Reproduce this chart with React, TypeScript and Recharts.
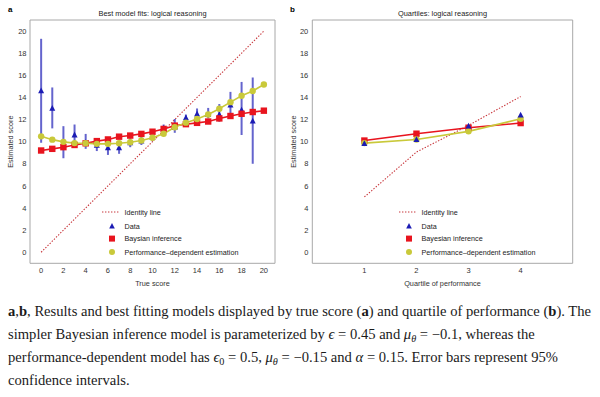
import React from 'react';
import { ComposedChart, Line, Scatter, XAxis, YAxis, ZAxis, ErrorBar, ReferenceArea, Label } from 'recharts';

// ---------- Panel a: by true score ----------
const trueScores = [0, 1, 2, 3, 4, 5, 6, 7, 8, 9, 10, 11, 12, 13, 14, 15, 16, 17, 18, 19, 20];
const bayesA = [9.2, 9.35, 9.5, 9.7, 9.85, 10.05, 10.2, 10.45, 10.55, 10.7, 10.9, 11.15, 11.45, 11.58, 11.7, 11.82, 12.1, 12.32, 12.52, 12.68, 12.8];
const perfA = [10.48, 10.18, 9.98, 9.87, 9.85, 9.8, 9.8, 9.85, 9.95, 10.1, 10.35, 10.72, 11.3, 11.72, 12.05, 12.45, 12.97, 13.57, 14.15, 14.58, 15.17];

const dataScoresA = [0, 1, 2, 3, 4, 5, 6, 7, 8, 9, 10, 11, 12, 13, 14, 15, 16, 17, 18, 19];
const dataMeanA = [14.6, 13.0, 9.8, 10.6, 9.9, 9.67, 9.45, 9.45, 9.9, 10.05, 10.4, 11.2, 11.3, 12.15, 12.5, 12.45, 12.45, 13.3, 12.85, 11.85];
const dataLowA = [9.9, 11.2, 8.5, 9.9, 9.35, 9.15, 8.8, 8.9, 9.5, 9.7, 10.05, 10.9, 10.8, 11.9, 12.1, 12.1, 11.8, 12.25, 10.6, 8.0];
const dataHighA = [19.3, 14.9, 11.4, 11.55, 10.7, 10.2, 10.0, 10.0, 10.3, 10.45, 10.8, 11.55, 12.05, 12.45, 13.0, 13.05, 13.4, 14.5, 15.4, 15.8];

// ---------- Panel b: by quartile ----------
const quartiles = [1, 2, 3, 4];
const identityB = [5.0, 9.06, 11.47, 14.08];
const dataB = [9.82, 10.18, 11.4, 12.4];
const bayesB = [10.1, 10.72, 11.26, 11.68];
const perfB = [9.87, 10.2, 10.93, 12.07];

const yTicks = [0, 2, 4, 6, 8, 10, 12, 14, 16, 18, 20];
const xTicksA = [0, 2, 4, 6, 8, 10, 12, 14, 16, 18, 20];
const xTicksB = [1, 2, 3, 4];

const RED = '#e8141e';
const YELLOW = '#c9c93a';
const BLUE = '#1c1cb4';
const ERR = '#3030bc';
const IDENT = '#c8373c';
const FONT = '"Liberation Sans", Arial, sans-serif';
const tickStyle = { fontSize: 7.5, fill: '#333', fontFamily: FONT };

const lineTableA = trueScores.map((x, i) => ({ x, identity: x, bayes: bayesA[i], perf: perfA[i] }));
const dataTableA = dataScoresA.map((x, i) => ({
  x,
  data: dataMeanA[i],
  err: [dataMeanA[i] - dataLowA[i], dataHighA[i] - dataMeanA[i]],
}));
const lineTableB = quartiles.map((x, i) => ({ x, identity: identityB[i], bayes: bayesB[i], perf: perfB[i] }));
const dataTableB = quartiles.map((x, i) => ({ x, data: dataB[i] }));

const squareDot = (props: any) => {
  const { cx, cy, index } = props;
  if (cx == null || cy == null) return <g key={`s${index}`} />;
  return <rect key={`s${index}`} x={cx - 3.2} y={cy - 3.2} width={6.4} height={6.4} fill={RED} />;
};
const circleDot = (props: any) => {
  const { cx, cy, index } = props;
  if (cx == null || cy == null) return <g key={`c${index}`} />;
  return <circle key={`c${index}`} cx={cx} cy={cy} r={3.2} fill={YELLOW} />;
};
const triangleShape = (props: any) => {
  const { cx, cy } = props;
  return <polygon points={`${cx},${cy - 3.4} ${cx - 3},${cy + 2.4} ${cx + 3},${cy + 2.4}`} fill={BLUE} />;
};

const yTitle = (props: any) => {
  const vb = props.viewBox;
  const x = vb.x + vb.width - 19;
  const y = 141.7;
  return (
    <text x={x} y={y} transform={`rotate(-90 ${x} ${y})`} textAnchor="middle" dominantBaseline="central" fontSize={7.3} fill="#333" fontFamily={FONT}>
      Estimated score
    </text>
  );
};
const xTitle = (text: string) => (props: any) => {
  const vb = props.viewBox;
  return (
    <text x={vb.x + vb.width / 2} y={283} textAnchor="middle" dominantBaseline="central" fontSize={7.3} fill="#333" fontFamily={FONT}>
      {text}
    </text>
  );
};

const Legend = ({ left, top, bayesLabel }: { left: number; top: number; bayesLabel: string }) => {
  const rows = [
    { label: 'Identity line', y: 0 },
    { label: 'Data', y: 14.3 },
    { label: bayesLabel, y: 26.6 },
    { label: 'Performance\u2013dependent estimation', y: 40 },
  ];
  const mx = 10;
  return (
    <svg style={{ position: 'absolute', left, top, overflow: 'visible' }} width={150} height={50}>
      <line x1={0} y1={0} x2={17} y2={0} stroke={IDENT} strokeWidth={1.1} strokeDasharray="1.4 1.6" />
      <polygon points={`${mx},${14.3 - 3.2} ${mx - 2.8},${14.3 + 2.2} ${mx + 2.8},${14.3 + 2.2}`} fill={BLUE} />
      <rect x={mx - 3} y={26.6 - 3} width={6} height={6} fill={RED} />
      <circle cx={mx} cy={40} r={3} fill={YELLOW} />
      {rows.map((r) => (
        <text key={r.label} x={22.5} y={r.y} dominantBaseline="central" fontSize={7.2} fill="#222" fontFamily={FONT}>
          {r.label}
        </text>
      ))}
    </svg>
  );
};

const titleStyle: React.CSSProperties = {
  position: 'absolute',
  top: 9,
  fontSize: 7.4,
  fontFamily: FONT,
  color: '#222',
  textAlign: 'center',
  whiteSpace: 'nowrap',
  lineHeight: '10px',
};

const subStyle: React.CSSProperties = { fontSize: '0.7em', position: 'relative', top: '0.3em', lineHeight: 0 };

export default function App() {
  return (
    <div style={{ position: 'absolute', left: 0, top: 0, width: 600, height: 397, background: '#fff', overflow: 'hidden' }}>
      <div style={{ position: 'absolute', left: 8, top: 5, fontSize: 8, fontWeight: 'bold', fontFamily: FONT }}>a</div>
      <div style={{ position: 'absolute', left: 290, top: 5, fontSize: 8, fontWeight: 'bold', fontFamily: FONT }}>b</div>
      <div style={{ ...titleStyle, left: 30, width: 245 }}>Best model fits: logical reasoning</div>
      <div style={{ ...titleStyle, left: 312.3, width: 260.4 }}>Quartiles: logical reasoning</div>

      <div style={{ position: 'absolute', left: 0, top: 0 }}>
        <ComposedChart width={285} height={290} data={lineTableA} margin={{ top: 20, right: 10, bottom: 25.7, left: 29 }}>
          <XAxis dataKey="x" type="number" domain={[-1, 21]} ticks={xTicksA} height={1} tickSize={0} tickMargin={4} axisLine={false} tick={tickStyle} interval={0}>
            <Label content={xTitle('True score')} />
          </XAxis>
          <YAxis type="number" domain={[-1, 21]} ticks={yTicks} width={1} tickSize={0} tickMargin={3.5} axisLine={false} tick={tickStyle} interval={0}>
            <Label content={yTitle} />
          </YAxis>
          <ZAxis range={[30, 30]} />
          <ReferenceArea x1={-1} x2={21} y1={-1} y2={21} fill="none" stroke="#a8a8a8" strokeWidth={1} />
          <Line dataKey="identity" stroke={IDENT} strokeWidth={1.1} strokeDasharray="1.4 1.6" dot={false} isAnimationActive={false} />
          <Line dataKey="bayes" stroke={RED} strokeWidth={1.6} dot={squareDot} isAnimationActive={false} />
          <Line dataKey="perf" stroke={YELLOW} strokeWidth={1.6} dot={circleDot} isAnimationActive={false} />
          <Scatter data={dataTableA} dataKey="data" shape={triangleShape} isAnimationActive={false}>
            <ErrorBar dataKey="err" direction="y" width={0} stroke={ERR} strokeWidth={2} strokeOpacity={0.75} />
          </Scatter>
        </ComposedChart>
      </div>

      <div style={{ position: 'absolute', left: 285, top: 0 }}>
        <ComposedChart width={315} height={290} data={lineTableB} margin={{ top: 20, right: 27.3, bottom: 25.7, left: 26.3 }}>
          <XAxis dataKey="x" type="number" domain={[0, 5]} ticks={xTicksB} height={1} tickSize={0} tickMargin={4} axisLine={false} tick={tickStyle} interval={0}>
            <Label content={xTitle('Quartile of performance')} />
          </XAxis>
          <YAxis type="number" domain={[-1, 21]} ticks={yTicks} width={1} tickSize={0} tickMargin={4} axisLine={false} tick={tickStyle} interval={0}>
            <Label content={yTitle} />
          </YAxis>
          <ZAxis range={[30, 30]} />
          <ReferenceArea x1={0} x2={5} y1={-1} y2={21} fill="none" stroke="#a8a8a8" strokeWidth={1} />
          <Line dataKey="identity" stroke={IDENT} strokeWidth={1.1} strokeDasharray="1.4 1.6" dot={false} isAnimationActive={false} />
          <Line dataKey="bayes" stroke={RED} strokeWidth={1.6} dot={squareDot} isAnimationActive={false} />
          <Line dataKey="perf" stroke={YELLOW} strokeWidth={1.6} dot={circleDot} isAnimationActive={false} />
          <Scatter data={dataTableB} dataKey="data" shape={triangleShape} isAnimationActive={false} />
        </ComposedChart>
      </div>

      <Legend left={101.7} top={211.7} bayesLabel="Baysian inference" />
      <Legend left={399} top={211.7} bayesLabel="Bayesian inference" />

      <div
        style={{
          position: 'absolute',
          left: 8,
          top: 299.5,
          fontFamily: '"Liberation Serif", "Times New Roman", serif',
          fontSize: 14.6,
          lineHeight: '23px',
          color: '#1a1a1a',
          whiteSpace: 'nowrap',
        }}
      >
        <b>a</b>,<b>b</b>, Results and best fitting models displayed by true score (<b>a</b>) and quartile of performance (<b>b</b>). The
        <br />
        simpler Bayesian inference model is parameterized by <i>ϵ</i> = 0.45 and <i>μ</i><span style={subStyle}><i>θ</i></span> = −0.1, whereas the
        <br />
        performance-dependent model has <i>ϵ</i><span style={subStyle}>0</span> = 0.5, <i>μ</i><span style={subStyle}><i>θ</i></span> = −0.15 and <i>α</i> = 0.15. Error bars represent 95%
        <br />
        confidence intervals.
      </div>
    </div>
  );
}
